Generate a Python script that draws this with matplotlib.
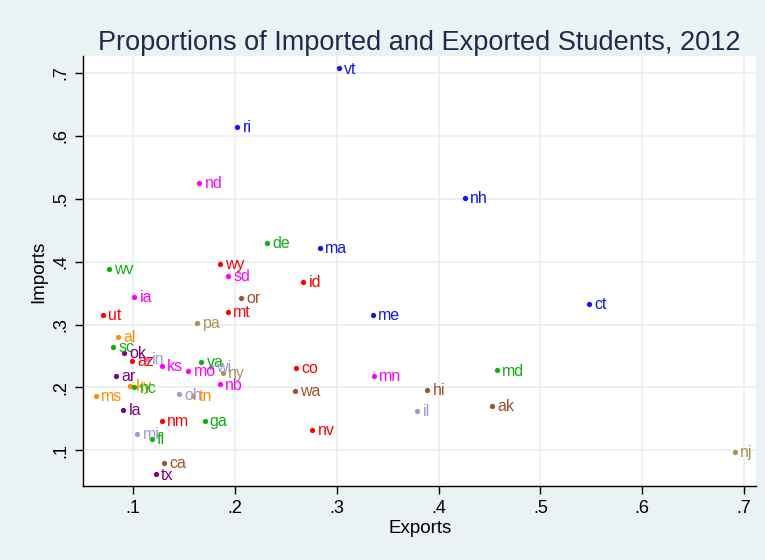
import matplotlib
matplotlib.use("Agg")
import matplotlib.pyplot as plt

# State-level proportions of students imported and exported, 2012
states = ["vt", "ri", "nd", "nh", "de", "ma", "wv", "wy", "sd", "id",
          "ia", "or", "ct", "mt", "ut", "me", "pa", "al", "sc", "ok",
          "az", "in", "ks", "va", "mo", "wi", "ny", "ar", "ky", "nc",
          "nb", "ms", "oh", "tn", "la", "nm", "ga", "mi", "fl", "ca",
          "tx", "co", "wa", "nv", "mn", "hi", "il", "md", "ak", "nj"]
exports = [0.302, 0.202, 0.165, 0.426, 0.231, 0.283, 0.076, 0.185, 0.193, 0.267,
           0.101, 0.206, 0.548, 0.193, 0.070, 0.335, 0.163, 0.085, 0.080, 0.091,
           0.099, 0.113, 0.128, 0.167, 0.154, 0.176, 0.188, 0.083, 0.097, 0.101,
           0.185, 0.063, 0.145, 0.159, 0.090, 0.128, 0.170, 0.104, 0.118, 0.130,
           0.122, 0.260, 0.259, 0.276, 0.336, 0.389, 0.379, 0.457, 0.452, 0.691]
imports = [0.707, 0.614, 0.525, 0.501, 0.430, 0.422, 0.388, 0.396, 0.377, 0.368,
           0.344, 0.342, 0.333, 0.320, 0.315, 0.315, 0.302, 0.280, 0.264, 0.255,
           0.242, 0.245, 0.234, 0.241, 0.226, 0.233, 0.223, 0.219, 0.203, 0.200,
           0.205, 0.187, 0.189, 0.187, 0.165, 0.147, 0.147, 0.126, 0.118, 0.080,
           0.062, 0.231, 0.194, 0.133, 0.219, 0.196, 0.163, 0.227, 0.171, 0.097]
regions = ["ne", "ne", "wnc", "ne", "sa", "ne", "sa", "mtn", "wnc", "mtn",
           "wnc", "pac", "ne", "mtn", "mtn", "ne", "ma", "esc", "sa", "wsc",
           "mtn", "enc", "wnc", "sa", "wnc", "enc", "ma", "wsc", "esc", "sa",
           "wnc", "esc", "enc", "esc", "wsc", "mtn", "sa", "enc", "sa", "pac",
           "wsc", "mtn", "pac", "mtn", "wnc", "pac", "enc", "sa", "pac", "ma"]

region_colors = {
    "ne": "#1414EE",   # New England
    "wnc": "#FF00FF",  # West North Central
    "sa": "#0DB00D",   # South Atlantic
    "mtn": "#FF0000",  # Mountain
    "pac": "#A0522D",  # Pacific
    "ma": "#A8935A",   # Mid-Atlantic
    "esc": "#FF8C00",  # East South Central
    "wsc": "#800080",  # West South Central
    "enc": "#9A9ADC",  # East North Central
}

x_ticks = [0.1, 0.2, 0.3, 0.4, 0.5, 0.6, 0.7]
y_ticks = [0.1, 0.2, 0.3, 0.4, 0.5, 0.6, 0.7]
tick_text = [".1", ".2", ".3", ".4", ".5", ".6", ".7"]

plt.rcParams["font.family"] = ["Liberation Sans", "DejaVu Sans"]

bg = "#EAF2F3"
fig = plt.figure(figsize=(7.65, 5.6), dpi=100, facecolor=bg)
ax = fig.add_axes([0.1089, 0.1313, 0.8793, 0.7679])
ax.set_facecolor("white")

for xv, yv, st, rg in zip(exports, imports, states, regions):
    c = region_colors[rg]
    ax.plot(xv, yv, "o", color=c, markersize=3.8, markeredgewidth=0, zorder=3)
    ax.annotate(st, (xv, yv), xytext=(3.8, -0.5), textcoords="offset points",
                ha="left", va="center", color=c, fontsize=11.5, zorder=4)

ax.set_xlim(0.0509, 0.7117)
ax.set_ylim(0.0427, 0.726)
ax.set_xticks(x_ticks)
ax.set_xticklabels(tick_text)
ax.set_yticks(y_ticks)
ax.set_yticklabels(tick_text, rotation=90, va="center")
ax.grid(True, color="#E6EEF1", linewidth=1.1, zorder=0)
ax.set_axisbelow(True)
for side in ("top", "right"):
    ax.spines[side].set_visible(False)
for side in ("left", "bottom"):
    ax.spines[side].set_color("black")
    ax.spines[side].set_linewidth(1.0)
ax.tick_params(axis="both", direction="out", length=6, width=1, color="black",
               labelsize=13, pad=4)

ax.set_xlabel("Exports", fontsize=13.5, labelpad=2)
ax.set_ylabel("Imports", fontsize=13.5, labelpad=4)

fig.text(0.548, 0.911, "Proportions of Imported and Exported Students, 2012",
         ha="center", va="baseline", fontsize=19.5, color="#1E2B4F")

fig.savefig("out.png", dpi=100, facecolor=bg)
